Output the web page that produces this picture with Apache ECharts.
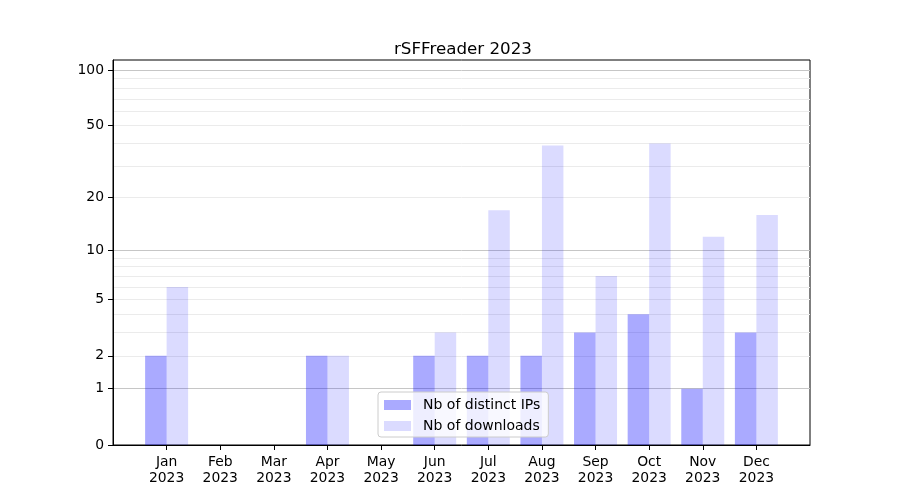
<!DOCTYPE html>
<html><head><meta charset="utf-8">
<script src="https://cdn.jsdelivr.net/npm/echarts@6/dist/echarts.min.js"></script>
<style>html,body{margin:0;padding:0;background:#fff}#c{width:900px;height:500px}</style>
</head><body><div id="c"></div>
<script>
const months = ['Jan','Feb','Mar','Apr','May','Jun','Jul','Aug','Sep','Oct','Nov','Dec'];
const year = '2023';
const distinctIPs = [2,0,0,2,0,2,2,2,3,4,1,3];
const downloads = [6,0,0,2,0,3,17,39,7,40,12,16];
const yTickLabels = [0,1,2,5,10,20,50,100];
const majorGrid = [1,10,100];
const minorGrid = [2,3,4,5,6,7,8,9,20,30,40,50,60,70,80,90];
const yTop = 113.5;

const f = v => Math.log10(1 + v);
const cats = [''].concat(months.map(m => m + '\n' + year)).concat(['']);
const pad = arr => [null].concat(arr.map(f)).concat([null]);
const FONT = 'DejaVu Sans';
const yBase = {type:'value', min:0, max:f(yTop), position:'left', axisLine:{show:false}, axisTick:{show:false}, axisLabel:{show:false}};

const chart = echarts.init(document.getElementById('c'), null, {renderer:'canvas'});
chart.setOption({
  animation:false,
  backgroundColor:'#fff',
  title:{text:'rSFFreader 2023', left:389, top:36, textStyle:{fontFamily:FONT, fontSize:16.7, fontWeight:'normal', color:'#000'}},
  grid:{left:113, right:90, top:60, bottom:55, show:true, borderColor:'#000', borderWidth:1, backgroundColor:'transparent'},
  legend:{
    orient:'vertical', left:378, top:392, padding:[6,8,4,6], itemGap:7,
    itemWidth:27, itemHeight:10, icon:'rect',
    backgroundColor:'rgba(255,255,255,0.8)', borderColor:'#ccc', borderWidth:1, borderRadius:3,
    textStyle:{fontFamily:FONT, fontSize:14, color:'#000', padding:[0,0,0,7]},
    data:['Nb of distinct IPs','Nb of downloads']
  },
  xAxis:{
    type:'category', data:cats, boundaryGap:false,
    axisLine:{show:true, lineStyle:{color:'#000', width:1}},
    axisTick:{show:true, length:5, lineStyle:{color:'#000'}, interval:(i, v) => v !== ''},
    axisLabel:{interval:0, margin:9, fontFamily:FONT, fontSize:13.9, color:'#000', lineHeight:16},
    splitLine:{show:false}
  },
  yAxis:[
    Object.assign({}, yBase, {
      axisLine:{show:true, lineStyle:{color:'#000', width:1}},
      axisTick:{show:true, length:5, lineStyle:{color:'#000'}, customValues:yTickLabels.map(f)},
      axisLabel:{show:true, margin:9, fontFamily:FONT, fontSize:13.9, color:'#000', customValues:yTickLabels.map(f),
        formatter: v => String(Math.round(Math.pow(10, v) - 1))},
      splitLine:{show:false}
    }),
    Object.assign({}, yBase, {axisTick:{show:false, customValues:minorGrid.map(f)}, splitLine:{show:true, lineStyle:{color:'#ebebeb', width:1}}}),
    Object.assign({}, yBase, {axisTick:{show:false, customValues:majorGrid.map(f)}, splitLine:{show:true, lineStyle:{color:'#c6c6c6', width:1}}})
  ],
  series:[
    {name:'Nb of distinct IPs', type:'bar', yAxisIndex:0, data:pad(distinctIPs), barWidth:21.5, barGap:'0%',
      itemStyle:{color:'rgba(0,0,255,0.333)'}, z:3},
    {name:'Nb of downloads', type:'bar', yAxisIndex:0, data:pad(downloads), barWidth:21.5, barGap:'0%',
      itemStyle:{color:'rgba(0,0,255,0.14)'}, z:3}
  ]
});
</script></body></html>
